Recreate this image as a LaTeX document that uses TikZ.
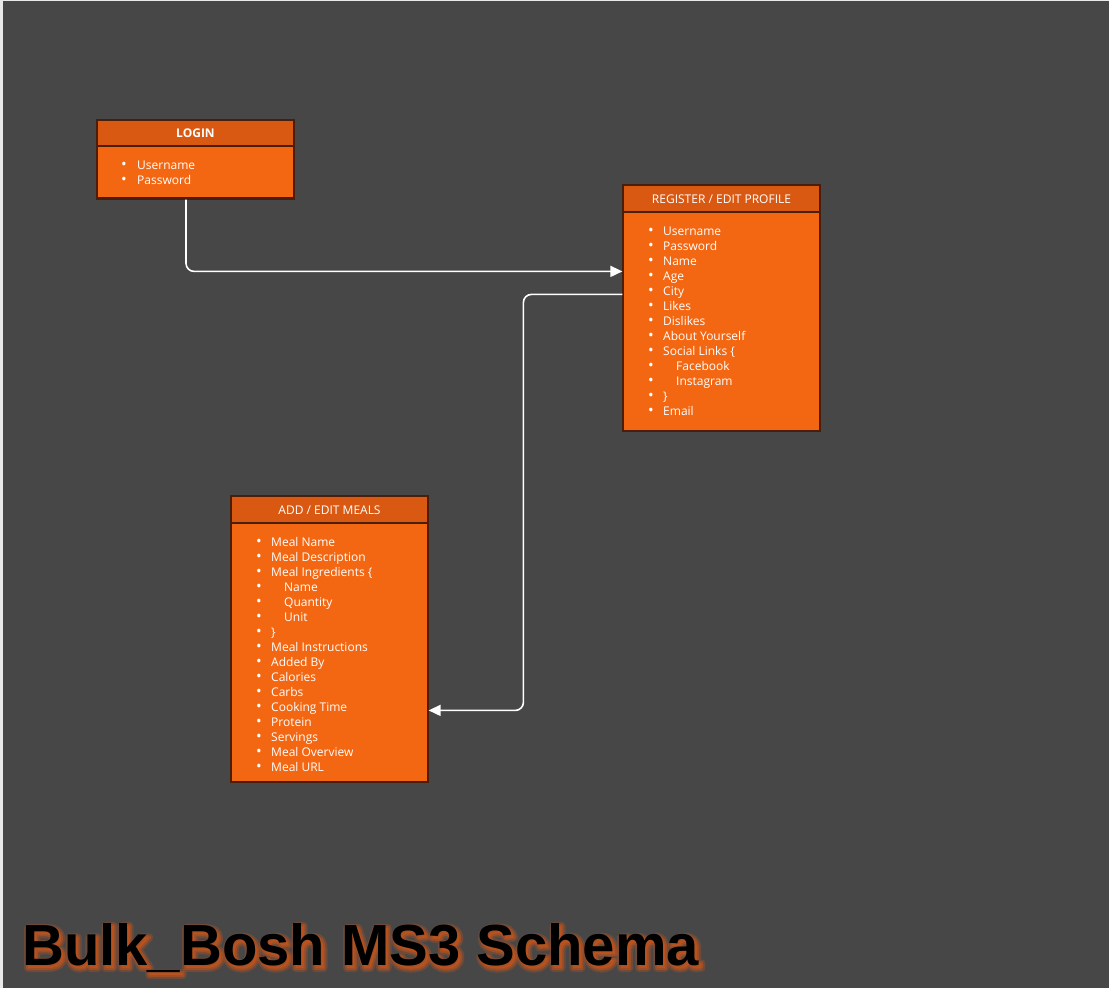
\documentclass[tikz,border=0pt]{standalone}
\usepackage{fontspec}
\setmainfont{Open Sans}
\newfontfamily\titlefont{Liberation Sans}
\usepackage{tikz}
\usetikzlibrary{calc,arrows.meta,positioning}
\definecolor{canvas}{HTML}{474747}
\definecolor{frame}{HTML}{E9E9E9}
\definecolor{headfill}{HTML}{DA5912}
\definecolor{bodyfill}{HTML}{F46712}
\definecolor{edge}{HTML}{4A1E08}
\definecolor{glow}{HTML}{C8541A}
% outlined text for the title glow
\newcommand{\glowtext}[2]{\special{pdf:literal direct 1 j #1 w 2 Tr}#2\special{pdf:literal direct 0 Tr 1 w}}
\newcommand{\bul}{\makebox[0pt][l]{\fontsize{15}{15}\selectfont\textbullet}}

\begin{document}
\begin{tikzpicture}[x=1pt, y=-1pt,
	head/.style={draw=edge, line width=1.2pt, fill=headfill, rectangle, minimum width=197pt, text=white, font=\fontsize{12}{14}\selectfont, inner sep=0pt, text height=9pt, text depth=0pt},
	body/.style={draw=edge, line width=1.2pt, fill=bodyfill, rectangle, minimum width=197pt, inner sep=0pt},
	item/.style={anchor=base west, inner sep=0pt, text=white, font=\fontsize{12}{14}\selectfont},
	titletext/.style={anchor=base west, inner sep=0pt, font=\titlefont\bfseries\fontsize{58}{60}\selectfont},
	link/.style={draw=white, line width=1.6pt, rounded corners=8pt, -{Triangle[length=12pt, width=11pt]}}]
	\useasboundingbox (0,0) rectangle (1109,988);
	\fill[frame] (0,0) rectangle (1109,988);
	\fill[canvas] (3,1) rectangle (1109,988);

	% login
	\node[body, minimum height=53pt] (loginbody) at (195.5,172.5) {};
	\node[head, minimum height=26pt, font=\fontsize{12}{14}\selectfont\bfseries] (login) at (195.5,133) {LOGIN};
	\draw[edge, line width=1.2pt] ($(loginbody.south west)+(0,-2)$) -- ($(loginbody.south east)+(0,-2)$);
	\foreach \t [count=\i] in {Username, Password}
		\node[item] (login-\i) at (121,154+15*\i) {\makebox[16pt][l]{\bul}\t};

	% register / edit profile
	\node[body, minimum height=219pt] (registerbody) at (721.5,321.5) {};
	\node[head, minimum height=27pt] (register) at (721.5,198.5) {REGISTER / EDIT PROFILE};
	\foreach \t [count=\i] in {Username, Password, Name, Age, City, Likes, Dislikes, About Yourself, Social Links \{, \hspace{13pt}Facebook, \hspace{13pt}Instagram, \}, Email}
		\node[item] (register-\i) at (648,220+15*\i) {\makebox[15pt][l]{\bul}\t};

	% add / edit meals
	\node[body, minimum height=259pt] (mealsbody) at (329.5,652.5) {};
	\node[head, minimum height=27pt] (meals) at (329.5,509.5) {ADD / EDIT MEALS};
	\foreach \t [count=\i] in {Meal Name, Meal Description, Meal Ingredients \{, \hspace{13pt}Name, \hspace{13pt}Quantity, \hspace{13pt}Unit, \}, Meal Instructions, Added By, Calories, Carbs, Cooking Time, Protein, Servings, Meal Overview, Meal URL}
		\node[item] (meals-\i) at (256,531+15*\i) {\makebox[15pt][l]{\bul}\t};

	\draw[link] ($(loginbody.south)+(-9.5,0)$) |- ($(registerbody.north west)+(0,60)$);
	\draw[link] ($(registerbody.north west)+(0,83)$) -- ++(-99,0) |- ($(mealsbody.north east)+(0,188)$);

	% title with glow
	\node[titletext, text=glow, opacity=0.3] (titleglow) at (24,968) {\glowtext{8}{Bulk\_Bosh MS3 Schema}};
	\node[titletext, text=glow, opacity=0.5] (titleshade) at (24,968) {\glowtext{4}{Bulk\_Bosh MS3 Schema}};
	\node[titletext, text=black] (title) at (22,965) {Bulk\_Bosh MS3 Schema};
\end{tikzpicture}
\end{document}
